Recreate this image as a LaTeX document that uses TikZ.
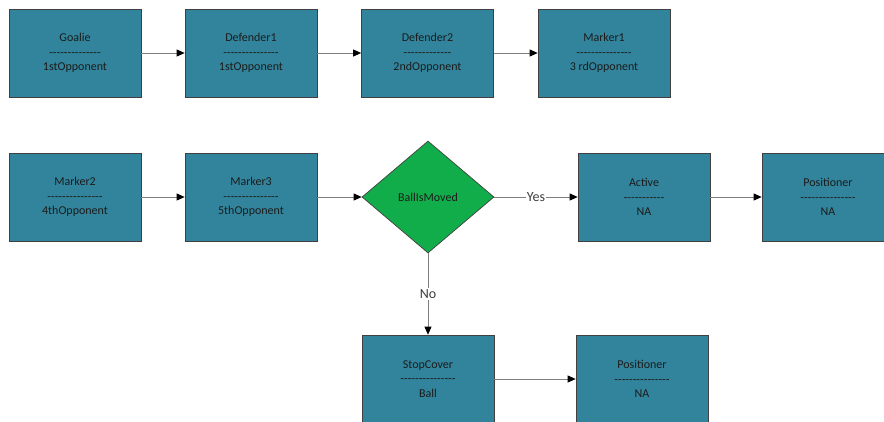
\documentclass[tikz,border=0pt]{standalone}
\usepackage{fontspec}
\setmainfont{Carlito}[Ligatures=TeXOff]
\usetikzlibrary{arrows.meta,shapes.geometric}
\definecolor{tealbox}{HTML}{31849B}
\definecolor{greendec}{HTML}{12AD4B}
\definecolor{edgegray}{HTML}{404040}
\definecolor{linkgray}{HTML}{7F7F7F}
\definecolor{txt}{HTML}{1C1C1C}
\tikzset{
  rolebox/.style={draw=edgegray, line width=0.7pt, fill=tealbox,
    minimum width=132pt, minimum height=88pt, inner sep=0pt,
    align=center, text=txt, font=\fontsize{12}{15}\selectfont},
  decision/.style={diamond, draw=edgegray, line width=0.7pt, fill=greendec,
    inner sep=0pt, text=txt, font=\fontsize{12}{15}\selectfont},
  link/.style={draw=linkgray, line width=0.9pt,
    -{Triangle[length=8pt,width=7pt,color=black]}},
  lbl/.style={fill=white, inner sep=1pt, text=txt!85,
    font=\fontsize{14}{16}\selectfont}
}
\begin{document}
\begin{tikzpicture}[x=1pt,y=-1pt]
\useasboundingbox (0,0) rectangle (884,421);
\clip (0,0) rectangle (884,421);
\fill[white] (0,0) rectangle (884,421);
% first row
\node[rolebox] (goalie) at (75,53) {Goalie\\[-0.5pt]--------------\\[-0.5pt]1stOpponent};
\node[rolebox] (def1) at (251,53) {Defender1\\[-0.5pt]---------------\\[-0.5pt]1stOpponent};
\node[rolebox] (def2) at (427.5,53) {Defender2\\[-0.5pt]-------------\\[-0.5pt]2ndOpponent};
\node[rolebox] (mark1) at (604,53) {Marker1\\[-0.5pt]---------------\\[-0.5pt]3 rdOpponent};
% second row
\node[rolebox] (mark2) at (75,197) {Marker2\\[-0.5pt]---------------\\[-0.5pt]4thOpponent};
\node[rolebox] (mark3) at (251,197) {Marker3\\[-0.5pt]---------------\\[-0.5pt]5thOpponent};
% decision diamond
\node[decision, minimum width=132pt, minimum height=112pt] (moved) at (428,197) {BallIsMoved};
\node[rolebox] (active) at (644,197) {Active\\[-0.5pt]-----------\\[-0.5pt]NA};
\node[rolebox] (pos1) at (828,197) {Positioner\\[-0.5pt]---------------\\[-0.5pt]NA};
% third row
\node[rolebox] (stop) at (428,379) {StopCover\\[-0.5pt]---------------\\[-0.5pt]Ball};
\node[rolebox] (pos2) at (642,379) {Positioner\\[-0.5pt]---------------\\[-0.5pt]NA};
% connectors
\draw[link] (goalie) -- (def1);
\draw[link] (def1) -- (def2);
\draw[link] (def2) -- (mark1);
\draw[link] (mark2) -- (mark3);
\draw[link] (mark3) -- (moved.west);
\draw[link] (moved.east) -- node[lbl] {Yes} (active);
\draw[link] (active) -- (pos1);
\draw[link] (moved.south) -- node[lbl] {No} (stop);
\draw[link] (stop) -- (pos2);
\end{tikzpicture}
\end{document}
